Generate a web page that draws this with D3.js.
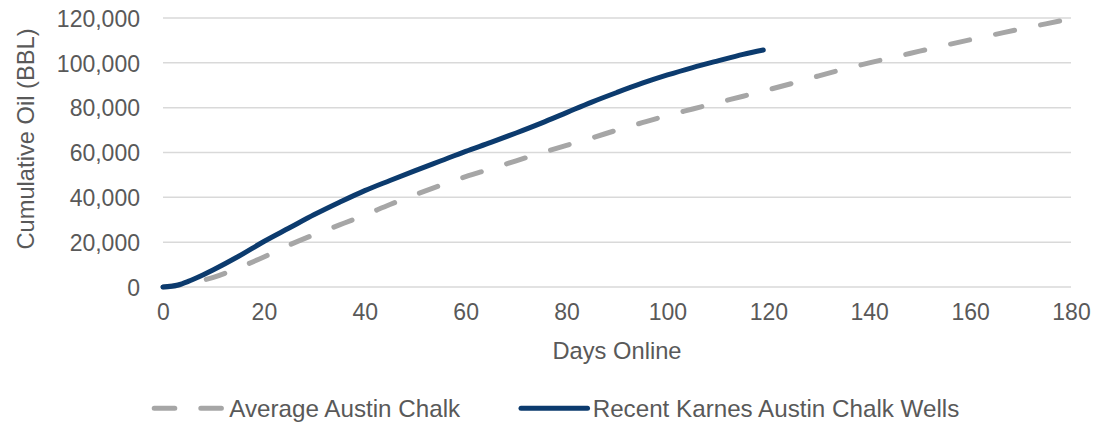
<!DOCTYPE html>
<html>
<head>
<meta charset="utf-8">
<script src="https://cdn.jsdelivr.net/npm/d3@7"></script>
<style>
    body { margin: 0; background: #fff; }
    svg { display: block; font-family: "Liberation Sans", Arial, sans-serif; }
    .grid line { stroke: #d9d9d9; stroke-width: 1.5; }
    .tick text { fill: #595959; font-size: 23px; }
    .title { fill: #595959; font-size: 23.7px; }
    .legend text { fill: #595959; font-size: 24.2px; }
</style>
</head>
<body>
<svg width="1094" height="422"></svg>
<script>
// data (days online -> cumulative oil, BBL)
var avgDays = [0, 3, 5, 10, 15, 20, 25, 30, 35, 40, 45, 50, 55, 60, 65, 70, 75, 80, 85, 90,
    95, 100, 105, 110, 115, 120, 125, 130, 135, 140, 145, 150, 155, 160, 165, 170, 175, 180];
var avgOil = [0, 800, 1600, 4300, 8600, 13400, 18700, 23400, 27700, 32100, 36800, 41200, 45300, 49200,
    52700, 56300, 59800, 63200, 66500, 70000, 73300, 76500, 79400, 82300, 85100, 88000, 91000,
    94200, 97200, 100000, 102600, 105200, 107800, 110300, 112700, 115100, 117400, 119700];

var recentDays = [0, 3, 5, 8, 10, 15, 20, 25, 30, 35, 40, 45, 50, 55, 60, 65, 70, 75, 80, 85,
    90, 95, 100, 105, 110, 115, 119];
var recentOil = [0, 900, 2500, 5500, 7700, 13700, 20300, 26300, 32300, 37800, 43000, 47500, 51900,
    56200, 60500, 64500, 68700, 73100, 77800, 82500, 86800, 90900, 94600, 97900, 100900, 103800, 105700];

var seriesNames = ['Average Austin Chalk', 'Recent Karnes Austin Chalk Wells'];
var xTicks = [0, 20, 40, 60, 80, 100, 120, 140, 160, 180];
var yTicks = [0, 20000, 40000, 60000, 80000, 100000, 120000];

var dom = {};
var scales = {};

function initDom() {
    dom.svg = d3.select('svg');
    scales.x = d3.scaleLinear().domain([0, 180]).range([163, 1071]);
    scales.y = d3.scaleLinear().domain([0, 120000]).range([287, 18]);
}

function drawAxes() {
    var x = scales.x, y = scales.y;

    dom.svg.append('g')
        .attr('class', 'grid')
        .selectAll('line')
        .data(yTicks)
        .enter().append('line')
        .attr('x1', x(0)).attr('x2', x(180))
        .attr('y1', function(d) { return y(d); })
        .attr('y2', function(d) { return y(d); });

    var yAxis = dom.svg.append('g')
        .attr('transform', 'translate(' + (x(0) - 23) + ',0)')
        .call(d3.axisLeft(y).tickValues(yTicks).tickSize(0).tickPadding(0).tickFormat(d3.format(',')));
    yAxis.select('.domain').remove();
    yAxis.selectAll('text').attr('dy', '0.36em');

    var xAxis = dom.svg.append('g')
        .attr('transform', 'translate(0,' + (y(0) + 17) + ')')
        .call(d3.axisBottom(x).tickValues(xTicks).tickSize(0).tickPadding(0));
    xAxis.select('.domain').remove();
    xAxis.selectAll('text').attr('dy', '0.71em');

    dom.svg.selectAll('.tick text').style('font-family', null);

    dom.svg.append('text')
        .attr('class', 'title')
        .attr('text-anchor', 'middle')
        .attr('transform', 'translate(33.5,139) rotate(-90)')
        .text('Cumulative Oil (BBL)');

    dom.svg.append('text')
        .attr('class', 'title')
        .attr('text-anchor', 'middle')
        .attr('x', (x(0) + x(180)) / 2)
        .attr('y', 358.5)
        .text('Days Online');
}

function drawLines() {
    var line = d3.line()
        .x(function(d) { return scales.x(d[0]); })
        .y(function(d) { return scales.y(d[1]); })
        .curve(d3.curveMonotoneX);

    dom.svg.append('path')
        .datum(d3.zip(avgDays, avgOil))
        .attr('d', line)
        .attr('fill', 'none')
        .attr('stroke', '#a6a6a6')
        .attr('stroke-width', 5)
        .attr('stroke-linecap', 'round')
        .attr('stroke-dasharray', '19.5,26.5')
        .attr('stroke-dashoffset', 2);

    dom.svg.append('path')
        .datum(d3.zip(recentDays, recentOil))
        .attr('d', line)
        .attr('fill', 'none')
        .attr('stroke', '#0c3b6e')
        .attr('stroke-width', 5)
        .attr('stroke-linecap', 'round')
        .attr('stroke-linejoin', 'round');
}

function drawLegend() {
    var items = [
        { name: seriesNames[0], x1: 154.2, x2: 221.5, tx: 229.3, color: '#a6a6a6', dash: '20.6,26' },
        { name: seriesNames[1], x1: 521, x2: 587.5, tx: 592.7, color: '#0c3b6e', dash: null }
    ];
    var g = dom.svg.append('g').attr('class', 'legend');
    var item = g.selectAll('g').data(items).enter().append('g');

    item.append('line')
        .attr('x1', function(d) { return d.x1; })
        .attr('x2', function(d) { return d.x2; })
        .attr('y1', 408.3).attr('y2', 408.3)
        .attr('stroke', function(d) { return d.color; })
        .attr('stroke-width', 5)
        .attr('stroke-linecap', 'round')
        .attr('stroke-dasharray', function(d) { return d.dash; });

    item.append('text')
        .attr('x', function(d) { return d.tx; })
        .attr('y', 416.8)
        .text(function(d) { return d.name; });
}

initDom();
drawAxes();
drawLines();
drawLegend();
</script>
</body>
</html>
